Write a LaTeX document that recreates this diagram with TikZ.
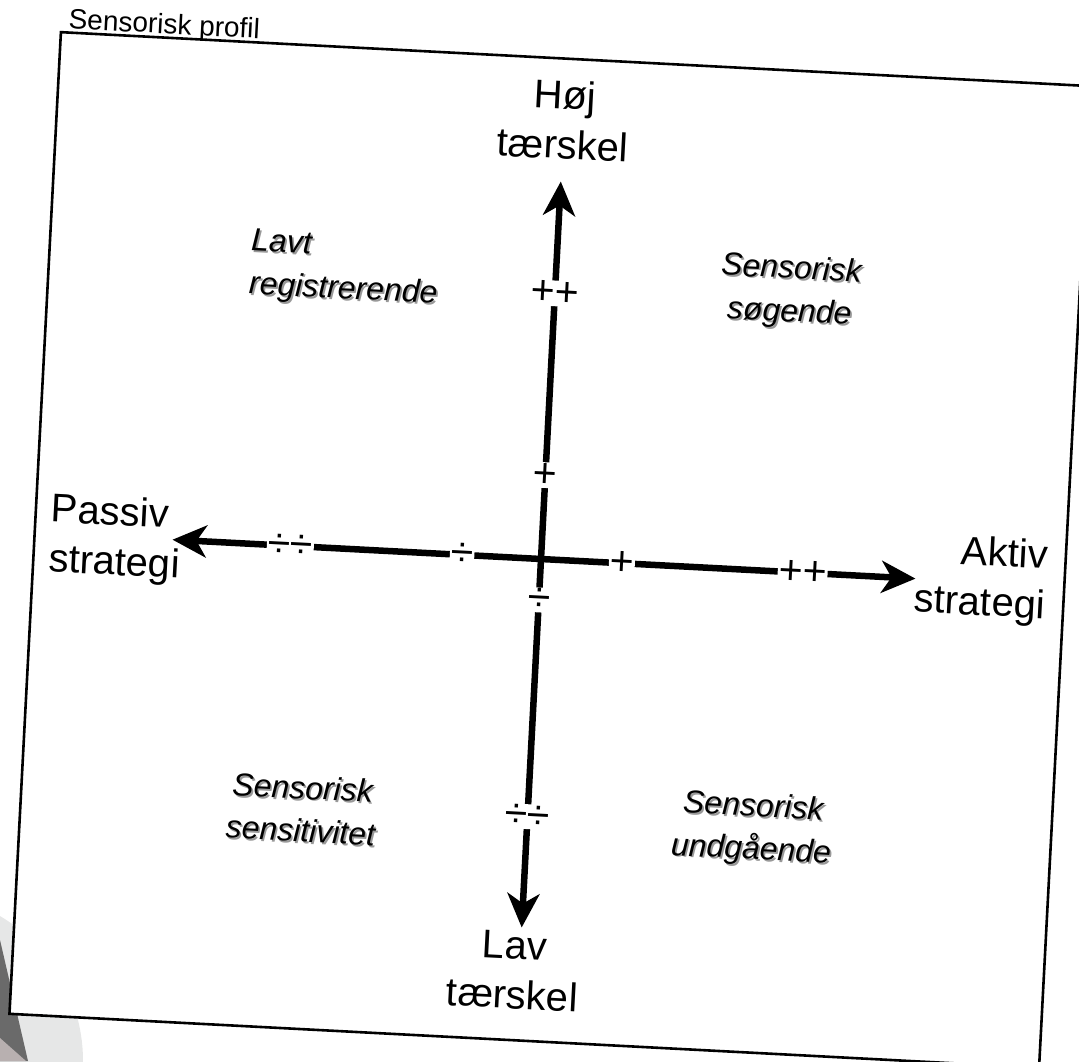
\documentclass[tikz,border=0pt]{standalone}
\usepackage{fontspec}
\setmainfont{Liberation Sans}
\usetikzlibrary{arrows.meta}
\definecolor{cornerlight}{HTML}{E6E7E7}
\definecolor{cornerdark}{HTML}{6A6A6A}
\definecolor{cornerpink}{HTML}{B8B0B0}
\newcommand{\qshadow}[1]{\makebox[0pt][l]{\hspace{1.8pt}\raisebox{-1.8pt}{\color{black!40}#1}}#1}

\begin{document}
\begin{tikzpicture}[
    x=1pt, y=-1pt,
    frame/.style={draw=black, line width=2.6pt, fill=white},
    axis/.style={line width=6.5pt, {Stealth[length=34pt,width=32pt,inset=10pt]}-{Stealth[length=34pt,width=32pt,inset=10pt]}},
    axislabel/.style={font=\fontsize{40}{50}\selectfont, align=center, inner sep=0pt},
    quadrant/.style={font=\fontsize{32}{43}\selectfont\itshape, align=center, inner sep=0pt},
    tick/.style={font=\fontsize{41}{41}\selectfont, fill=white, inner sep=1pt},
    every node/.append style={transform shape}
]
    \useasboundingbox (0,0) rectangle (1079,1061);
    \clip (0,0) rectangle (1079,1061);

    % Shadow in the lower left corner
    \fill[cornerlight] (-85,1061) circle[radius=168pt];
    \fill[cornerdark] (0,940) -- (28,1061) -- (0,1061) -- cycle;
    \fill[cornerpink] (0,1038) -- (26,1061) -- (0,1061) -- cycle;

    \begin{scope}[shift={(541,559)}, rotate=-3]
    % Frame and title
    \draw[frame] (-507,-501) rectangle (524,482);
    \node[anchor=base west, font=\fontsize{28}{30}\selectfont, inner sep=0pt] (title) at (-500,-505) {Sensorisk profil};

    % Axis end points
    \coordinate (origin) at (0,0);
    \coordinate (hightip) at (0,-378);
    \coordinate (lowtip) at (0,369);
    \coordinate (passivetip) at (-369,0);
    \coordinate (activetip) at (375,0);

    % Axes
    \draw[axis] (lowtip) -- (hightip);
    \draw[axis] (passivetip) -- (activetip);

    % Ticks on the horizontal axis
    \node[tick] (hmm) at (-251,0) {÷÷};
    \node[tick] (hm) at (-79,0) {÷};
    \node[tick] (hp) at (81,0) {+};
    \node[tick] (hpp) at (262,0) {++};

    % Ticks on the vertical axis
    \node[tick] (vpp) at (0,-266) {++};
    \node[tick] (vp) at (0,-84) {+};
    \node[tick] (vm) at (0,41) {÷};
    \node[tick] (vmm) at (0,258) {÷÷};

    % Axis labels
    \node[axislabel] (high) at (0,-440) {Høj\\tærskel};
    \node[axislabel] (low) at (-6,412) {Lav\\tærskel};
    \node[axislabel, align=left] (passive) at (-426,3) {Passiv\\strategi};
    \node[axislabel, align=right, anchor=east] (active) at (506,-2) {Aktiv\\strategi};

    % Quadrant labels
    \node[quadrant, align=left, anchor=west] (registration) at (-306,-278) {\qshadow{Lavt}\\\qshadow{registrerende}};
    \node[quadrant] (seeking) at (235,-279) {\qshadow{Sensorisk}\\\qshadow{søgende}};
    \node[quadrant] (sensitivity) at (-226,263) {\qshadow{Sensorisk}\\\qshadow{sensitivitet}};
    \node[quadrant] (avoiding) at (225,260) {\qshadow{Sensorisk}\\\qshadow{undgående}};
    \end{scope}
\end{tikzpicture}
\end{document}
